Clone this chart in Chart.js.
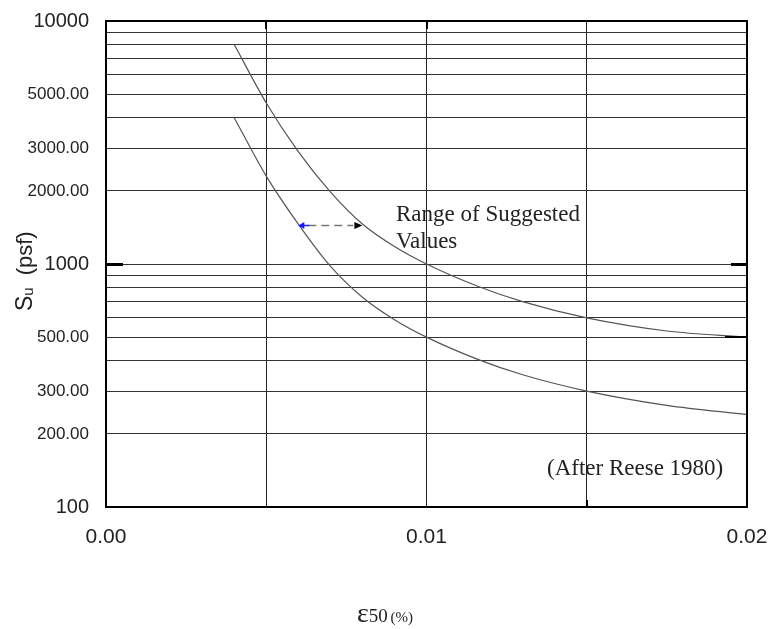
<!DOCTYPE html>
<html>
<head>
<meta charset="utf-8">
<script src="https://cdn.jsdelivr.net/npm/chart.js@4.4.0/dist/chart.umd.min.js"></script>
<style>
  body { margin: 0; background: #fff; }
  canvas { display: block; }
</style>
</head>
<body>
<canvas id="chart" width="772" height="629"></canvas>
<script>
// curves (strain vs undrained shear strength, psf)
const upperStrain = [0.004, 0.005, 0.006, 0.007, 0.008, 0.009, 0.01, 0.0116, 0.013, 0.015, 0.0175, 0.02];
const upperSu = [8000, 4600, 2900, 1980, 1460, 1180, 1000, 810, 700, 600, 530, 500];
const lowerStrain = [0.004, 0.005, 0.006, 0.007, 0.008, 0.009, 0.01, 0.0116, 0.013, 0.015, 0.0175, 0.02];
const lowerSu = [4000, 2300, 1460, 980, 730, 590, 500, 405, 350, 300, 262, 240];

const xTickValues = [0, 0.005, 0.01, 0.015, 0.02];
const xTickLabels = ["0.00", "", "0.01", "", "0.02"];
const yTickValues = [100, 200, 300, 400, 500, 600, 700, 800, 900, 1000, 2000, 3000, 4000, 5000, 6000, 7000, 8000, 9000, 10000];
const yTickLabels = ["100", "200.00", "300.00", "", "500.00", "", "", "", "", "1000", "2000.00", "3000.00", "", "5000.00", "", "", "", "", "10000"];
const bigYLabels = [100, 1000, 10000];

// dashed "range" arrow
const arrowSu = 1450;
const arrowFrom = 0.006;
const arrowTo = 0.008;

const sans = "'Liberation Sans', Arial, sans-serif";
const serif = "'Liberation Serif', 'Times New Roman', serif";

const chartDOM = document.getElementById("chart").getContext("2d");

function toPoints(xs, ys) {
  return xs.map((x, i) => ({ x: x, y: ys[i] }));
}

// keep the plot box where the reference has it, labels may hang over
function noOverhang(scale) {
  scale.paddingTop = 0;
  scale.paddingBottom = 0;
  scale.paddingLeft = 0;
  scale.paddingRight = 0;
}

const framePlugin = {
  id: "frame",
  afterDatasetsDraw(chart) {
    const ctx = chart.ctx;
    const a = chart.chartArea;
    const xs = chart.scales.x;
    const ys = chart.scales.y;
    ctx.save();

    // plot border
    ctx.strokeStyle = "#000";
    ctx.lineWidth = 2;
    ctx.strokeRect(a.left, a.top, a.right - a.left, a.bottom - a.top);

    // the odd heavy tick marks on the frame
    ctx.lineWidth = 3;
    ctx.beginPath();
    let y1000 = Math.round(ys.getPixelForValue(1000)) + 0.5;
    ctx.moveTo(a.left, y1000); ctx.lineTo(a.left + 17, y1000);
    ctx.moveTo(a.right - 16, y1000); ctx.lineTo(a.right, y1000);
    ctx.stroke();
    ctx.lineWidth = 2;
    ctx.beginPath();
    let y500 = Math.round(ys.getPixelForValue(500));
    ctx.moveTo(a.right - 22, y500); ctx.lineTo(a.right, y500);
    [0.005, 0.01].forEach((v) => {
      let px = Math.round(xs.getPixelForValue(v));
      ctx.moveTo(px, a.top); ctx.lineTo(px, a.top + 8);
    });
    let p15 = Math.round(xs.getPixelForValue(0.015));
    ctx.moveTo(p15, a.bottom); ctx.lineTo(p15, a.bottom - 7);
    ctx.stroke();

    // dashed arrow between the curves
    const ay = Math.round(ys.getPixelForValue(arrowSu)) + 0.5;
    const ax1 = xs.getPixelForValue(arrowFrom);
    const ax2 = xs.getPixelForValue(arrowTo);
    ctx.strokeStyle = "#777";
    ctx.lineWidth = 1.5;
    ctx.setLineDash([8, 5]);
    ctx.beginPath();
    ctx.moveTo(ax1 + 10, ay);
    ctx.lineTo(ax2 - 9, ay);
    ctx.stroke();
    ctx.setLineDash([]);

    ctx.strokeStyle = "#1a1aff";
    ctx.fillStyle = "#1a1aff";
    ctx.beginPath();
    ctx.moveTo(ax1 + 11, ay); ctx.lineTo(ax1 + 2, ay);
    ctx.stroke();
    ctx.beginPath();
    ctx.moveTo(ax1, ay); ctx.lineTo(ax1 + 6, ay - 3.5); ctx.lineTo(ax1 + 6, ay + 3.5);
    ctx.closePath(); ctx.fill();

    ctx.fillStyle = "#000";
    ctx.beginPath();
    ctx.moveTo(ax2, ay); ctx.lineTo(ax2 - 8, ay - 3.5); ctx.lineTo(ax2 - 8, ay + 3.5);
    ctx.closePath(); ctx.fill();

    // annotations
    ctx.fillStyle = "#222";
    ctx.font = "23px " + serif;
    ctx.textBaseline = "alphabetic";
    ctx.textAlign = "left";
    ctx.fillText("Range of Suggested", 396, 221);
    ctx.fillText("Values", 396, 248);
    ctx.fillText("(After Reese 1980)", 547, 475);
    ctx.restore();
  },
  afterDraw(chart) {
    const ctx = chart.ctx;
    ctx.save();
    ctx.fillStyle = "#222";
    ctx.textBaseline = "alphabetic";
    ctx.textAlign = "left";

    // x axis title: ε50 (%)
    let x = 357;
    ctx.font = "28px " + serif;
    ctx.fillText("ε", x, 622);
    x += ctx.measureText("ε").width;
    ctx.font = "19px " + serif;
    ctx.fillText("50", x, 622);
    x += ctx.measureText("50 ").width - 2;
    ctx.font = "15px " + serif;
    ctx.fillText("(%)", x, 622);

    // y axis title: Su (psf), rotated
    ctx.translate(32, 311);
    ctx.rotate(-Math.PI / 2);
    let t = 0;
    ctx.font = "23px " + sans;
    ctx.fillText("S", t, 0);
    t += ctx.measureText("S").width;
    ctx.font = "15px " + sans;
    ctx.fillText("u", t, 1);
    t += ctx.measureText("u").width + 12;
    ctx.font = "22px " + sans;
    ctx.fillText("(psf)", t, 0);
    ctx.restore();
  },
};

const config = {
  type: "line",
  data: {
    datasets: [
      {
        label: "upper",
        data: toPoints(upperStrain, upperSu),
        borderColor: "#555",
        borderWidth: 1.2,
        pointRadius: 0,
        cubicInterpolationMode: "monotone",
      },
      {
        label: "lower",
        data: toPoints(lowerStrain, lowerSu),
        borderColor: "#555",
        borderWidth: 1.2,
        pointRadius: 0,
        cubicInterpolationMode: "monotone",
      },
    ],
  },
  options: {
    responsive: false,
    animation: false,
    layout: { padding: { top: 21, right: 25, left: 0, bottom: 0 } },
    plugins: { legend: { display: false }, tooltip: { enabled: false } },
    scales: {
      x: {
        type: "linear",
        min: 0,
        max: 0.02,
        afterBuildTicks: (scale) => {
          scale.ticks = xTickValues.map((v) => ({ value: v }));
        },
        afterFit: (scale) => {
          scale.height = 122;
          noOverhang(scale);
        },
        border: { display: false },
        grid: { color: "#222", lineWidth: 1, drawTicks: false },
        ticks: {
          autoSkip: false,
          maxRotation: 0,
          padding: 18,
          color: "#222",
          font: { family: sans, size: 21 },
          callback: (v, i) => xTickLabels[i],
        },
      },
      y: {
        type: "logarithmic",
        min: 100,
        max: 10000,
        afterBuildTicks: (scale) => {
          scale.ticks = yTickValues.map((v) => ({ value: v }));
        },
        afterFit: (scale) => {
          scale.width = 106;
          noOverhang(scale);
        },
        border: { display: false },
        grid: { color: "#333", lineWidth: 1, drawTicks: false },
        ticks: {
          autoSkip: false,
          padding: 17,
          color: "#222",
          font: (c) => ({
            family: sans,
            size: c.tick && bigYLabels.includes(c.tick.value) ? 20 : 17,
          }),
          callback: (v, i) => yTickLabels[i],
        },
      },
    },
  },
  plugins: [framePlugin],
};

window.chartDOM = new Chart(chartDOM, config);
</script>
</body>
</html>
